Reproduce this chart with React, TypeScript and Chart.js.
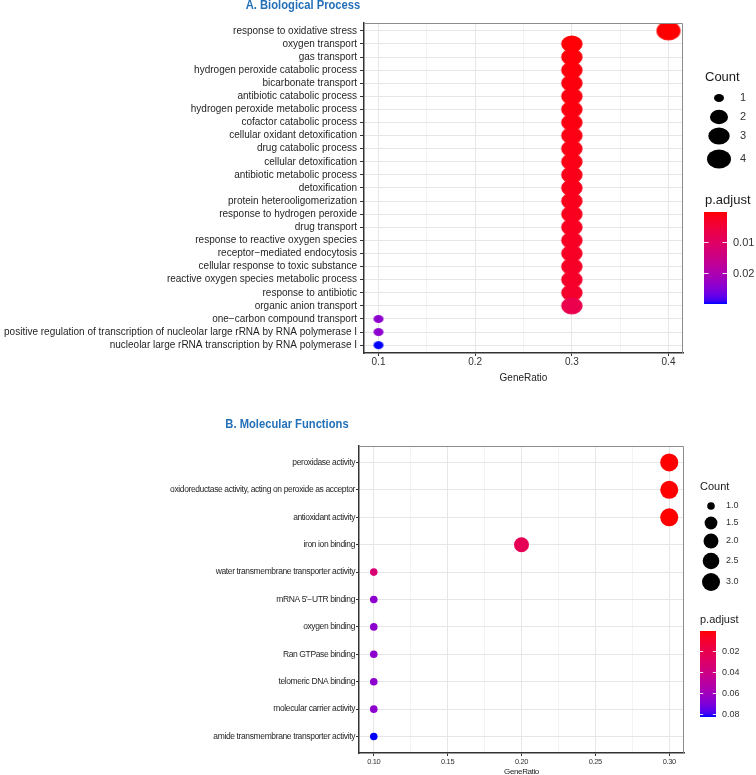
import React, { useEffect, useRef } from 'react';
import { Chart, registerables } from 'chart.js';

Chart.register(...registerables);

// ---------------- Data: A. Biological Process ----------------
const bpTerms = [
  'response to oxidative stress',
  'oxygen transport',
  'gas transport',
  'hydrogen peroxide catabolic process',
  'bicarbonate transport',
  'antibiotic catabolic process',
  'hydrogen peroxide metabolic process',
  'cofactor catabolic process',
  'cellular oxidant detoxification',
  'drug catabolic process',
  'cellular detoxification',
  'antibiotic metabolic process',
  'detoxification',
  'protein heterooligomerization',
  'response to hydrogen peroxide',
  'drug transport',
  'response to reactive oxygen species',
  'receptor\u2212mediated endocytosis',
  'cellular response to toxic substance',
  'reactive oxygen species metabolic process',
  'response to antibiotic',
  'organic anion transport',
  'one\u2212carbon compound transport',
  'positive regulation of transcription of nucleolar large rRNA by RNA polymerase I',
  'nucleolar large rRNA transcription by RNA polymerase I',
];
const bpGeneRatio = [0.4, 0.3, 0.3, 0.3, 0.3, 0.3, 0.3, 0.3, 0.3, 0.3, 0.3, 0.3, 0.3, 0.3, 0.3, 0.3, 0.3, 0.3, 0.3, 0.3, 0.3, 0.3, 0.1, 0.1, 0.1];
const bpCount = [4, 3, 3, 3, 3, 3, 3, 3, 3, 3, 3, 3, 3, 3, 3, 3, 3, 3, 3, 3, 3, 3, 1, 1, 1];
const bpPAdjust = [0.0004, 0.0007, 0.0008, 0.0009, 0.0010, 0.0011, 0.0012, 0.0013, 0.0014, 0.0015, 0.0016, 0.0018, 0.0019, 0.0021, 0.0023, 0.0025, 0.0027, 0.0029, 0.0031, 0.0034, 0.0037, 0.0073, 0.0240, 0.0240, 0.0300];
const bpXTicks = [0.1, 0.2, 0.3, 0.4];
const bpXMinor = [0.15, 0.25, 0.35];
const bpCountLegend = [1, 2, 3, 4];
const bpPTicks = [0.01, 0.02];

// ---------------- Data: B. Molecular Functions ----------------
const mfTerms = [
  'peroxidase activity',
  'oxidoreductase activity, acting on peroxide as acceptor',
  'antioxidant activity',
  'iron ion binding',
  'water transmembrane transporter activity',
  "mRNA 5'\u2212UTR binding",
  'oxygen binding',
  'Ran GTPase binding',
  'telomeric DNA binding',
  'molecular carrier activity',
  'amide transmembrane transporter activity',
];
const mfGeneRatio = [0.3, 0.3, 0.3, 0.2, 0.1, 0.1, 0.1, 0.1, 0.1, 0.1, 0.1];
const mfCount = [3, 3, 3, 2, 1, 1, 1, 1, 1, 1, 1];
const mfPAdjust = [0.0005, 0.0006, 0.0007, 0.0230, 0.0335, 0.0665, 0.0665, 0.0665, 0.0665, 0.0665, 0.0830];
const mfXTicks = [0.1, 0.15, 0.2, 0.25, 0.3];
const mfXMinor = [0.125, 0.175, 0.225, 0.275];
const mfCountLegend = [1.0, 1.5, 2.0, 2.5, 3.0];
const mfPTicks = [0.02, 0.04, 0.06, 0.08];

// ---------------- Styling helpers ----------------
const SANS = "'Liberation Sans', Arial, Helvetica, sans-serif";
const LOW_COLOR = '#FF0000';
const HIGH_COLOR = '#0000FF';

function hexToRgb(h: string): number[] {
  const v = parseInt(h.slice(1), 16);
  return [(v >> 16) & 255, (v >> 8) & 255, v & 255];
}
function rgbToLab(rgb: number[]): number[] {
  const lin = rgb.map((c) => {
    const x = c / 255;
    return x <= 0.04045 ? x / 12.92 : Math.pow((x + 0.055) / 1.055, 2.4);
  });
  const [r, g, b] = lin;
  const X = (0.4124564 * r + 0.3575761 * g + 0.1804375 * b) / 0.95047;
  const Y = 0.2126729 * r + 0.7151522 * g + 0.072175 * b;
  const Z = (0.0193339 * r + 0.119192 * g + 0.9503041 * b) / 1.08883;
  const f = (t: number) => (t > 0.008856 ? Math.cbrt(t) : 7.787 * t + 16 / 116);
  const fx = f(X), fy = f(Y), fz = f(Z);
  return [116 * fy - 16, 500 * (fx - fy), 200 * (fy - fz)];
}
function labToRgb(lab: number[]): number[] {
  const [L, a, b] = lab;
  const fy = (L + 16) / 116;
  const fx = fy + a / 500;
  const fz = fy - b / 200;
  const inv = (t: number) => (t * t * t > 0.008856 ? t * t * t : (t - 16 / 116) / 7.787);
  const X = 0.95047 * inv(fx), Y = inv(fy), Z = 1.08883 * inv(fz);
  const r = 3.2404542 * X - 1.5371385 * Y - 0.4985314 * Z;
  const g = -0.969266 * X + 1.8760108 * Y + 0.041556 * Z;
  const bb = 0.0556434 * X - 0.2040259 * Y + 1.0572252 * Z;
  return [r, g, bb].map((c) => {
    const v = c <= 0.0031308 ? 12.92 * c : 1.055 * Math.pow(c, 1 / 2.4) - 0.055;
    return Math.round(Math.max(0, Math.min(1, v)) * 255);
  });
}
const LOW_LAB = rgbToLab(hexToRgb(LOW_COLOR));
const HIGH_LAB = rgbToLab(hexToRgb(HIGH_COLOR));
function gradColor(t: number): string {
  const tt = Math.max(0, Math.min(1, t));
  const lab = LOW_LAB.map((v, i) => v + (HIGH_LAB[i] - v) * tt);
  const [r, g, b] = labToRgb(lab);
  return `rgb(${r},${g},${b})`;
}

function dotImage(rx: number, ry: number, color: string): HTMLCanvasElement {
  const c = document.createElement('canvas');
  const w = Math.ceil(rx * 2) + 2;
  const h = Math.ceil(ry * 2) + 2;
  c.width = w;
  c.height = h;
  const g = c.getContext('2d')!;
  g.fillStyle = color;
  g.beginPath();
  g.ellipse(w / 2, h / 2, rx, ry, 0, 0, Math.PI * 2);
  g.fill();
  return c;
}

type Spec = {
  terms: string[];
  ratio: number[];
  count: number[];
  padj: number[];
  xMin: number;
  xMax: number;
  xTicks: number[];
  xMinor: number[];
  xDecimals: number;
  area: { left: number; top: number; right: number; bottom: number };
  canvasW: number;
  canvasH: number;
  xTitleBottom: number;
  axisLetterSpacing: string;
  yFont: { family: string; size: number };
  xFont: { family: string; size: number };
  xTitleFont: { family: string; size: number };
  yTickLen: number;
  yTickPad: number;
  xTickLen: number;
  xTickPad: number;
  rMin: number;
  rMax: number;
  aspect: number;
  legend: {
    countLegend: number[];
    countDecimals: number;
    pTicks: number[];
    titleFont: number;
    labelFont: number;
    countTitle: { x: number; y: number };
    dotX: number;
    dotYs: number[];
    labelX: number;
    pTitle: { x: number; y: number };
    bar: { x: number; y: number; w: number; h: number };
    barLabelX: number;
  };
};

function buildConfig(spec: Spec): any {
  const n = spec.terms.length;
  const cMin = Math.min(...spec.count);
  const cMax = Math.max(...spec.count);
  const pMin = Math.min(...spec.padj);
  const pMax = Math.max(...spec.padj);
  const sizeOf = (c: number) =>
    spec.rMin + (spec.rMax - spec.rMin) * Math.sqrt(cMax === cMin ? 1 : (c - cMin) / (cMax - cMin));
  const colorOf = (p: number) => gradColor((p - pMin) / (pMax - pMin));
  const isMinor = (v: number) => spec.xMinor.some((m) => Math.abs(m - v) < 1e-9);
  const xAll = [...spec.xTicks, ...spec.xMinor].sort((a, b) => a - b);

  const radii = spec.count.map((c) => sizeOf(c));
  const colors = spec.padj.map((p) => colorOf(p));
  const styles = spec.aspect === 1
    ? 'circle'
    : radii.map((r, i) => dotImage(r, r * spec.aspect, colors[i]));

  const A = spec.area;
  const L = spec.legend;

  const framePlugin = {
    id: 'frameLegend' + Math.random().toString(36).slice(2),
    beforeDraw(chart: any) {
      const ctx = chart.ctx as any;
      if ('letterSpacing' in ctx) ctx.letterSpacing = spec.axisLetterSpacing;
    },
    afterDraw(chart: any) {
      const { chartArea: ca } = chart;
      const ctx = chart.ctx as any;
      if ('letterSpacing' in ctx) ctx.letterSpacing = '0px';
      ctx.save();
      // top & right panel border
      ctx.strokeStyle = '#8c8c8c';
      ctx.lineWidth = 1;
      ctx.beginPath();
      ctx.moveTo(ca.left, Math.round(ca.top) + 0.5);
      ctx.lineTo(Math.round(ca.right) - 0.5, Math.round(ca.top) + 0.5);
      ctx.lineTo(Math.round(ca.right) - 0.5, ca.bottom);
      ctx.stroke();

      // Count legend
      ctx.textAlign = 'left';
      ctx.textBaseline = 'middle';
      ctx.fillStyle = '#1a1a1a';
      ctx.font = `${L.titleFont}px ${SANS}`;
      ctx.fillText('Count', L.countTitle.x, L.countTitle.y);
      L.countLegend.forEach((c, i) => {
        const rx = sizeOf(c);
        const ry = rx * spec.aspect;
        ctx.fillStyle = '#000';
        ctx.beginPath();
        ctx.ellipse(L.dotX, L.dotYs[i], rx, ry, 0, 0, Math.PI * 2);
        ctx.fill();
        ctx.fillStyle = '#333';
        ctx.font = `${L.labelFont}px ${SANS}`;
        ctx.fillText(c.toFixed(L.countDecimals), L.labelX, L.dotYs[i]);
      });

      // p.adjust colour bar
      ctx.fillStyle = '#1a1a1a';
      ctx.font = `${L.titleFont}px ${SANS}`;
      ctx.fillText('p.adjust', L.pTitle.x, L.pTitle.y);
      const b = L.bar;
      const grad = ctx.createLinearGradient(0, b.y, 0, b.y + b.h);
      for (let k = 0; k <= 24; k++) grad.addColorStop(k / 24, gradColor(k / 24));
      ctx.fillStyle = grad;
      ctx.fillRect(b.x, b.y, b.w, b.h);
      ctx.strokeStyle = 'rgba(255,255,255,0.85)';
      ctx.lineWidth = 1;
      ctx.font = `${L.labelFont}px ${SANS}`;
      L.pTicks.forEach((v) => {
        const y = Math.round(b.y + ((v - pMin) / (pMax - pMin)) * b.h) + 0.5;
        const tl = b.w / 5;
        ctx.beginPath();
        ctx.moveTo(b.x, y);
        ctx.lineTo(b.x + tl, y);
        ctx.moveTo(b.x + b.w - tl, y);
        ctx.lineTo(b.x + b.w, y);
        ctx.stroke();
        ctx.fillStyle = '#333';
        ctx.fillText(v.toFixed(2), L.barLabelX, y);
      });
      ctx.restore();
    },
  };

  return {
    type: 'scatter',
    data: {
      datasets: [
        {
          data: spec.terms.map((_, i) => ({ x: spec.ratio[i], y: i })),
          pointStyle: styles,
          pointRadius: radii,
          pointHoverRadius: radii,
          backgroundColor: colors,
          borderColor: colors,
          borderWidth: 0,
          clip: 0,
        },
      ],
    },
    options: {
      animation: false,
      responsive: false,
      maintainAspectRatio: false,
      events: [],
      layout: {
        padding: {
          top: A.top,
          right: spec.canvasW - A.right,
          bottom: spec.canvasH - spec.xTitleBottom,
          left: 0,
        },
      },
      plugins: { legend: { display: false }, tooltip: { enabled: false }, title: { display: false } },
      scales: {
        x: {
          type: 'linear',
          min: spec.xMin,
          max: spec.xMax,
          afterBuildTicks: (s: any) => {
            s.ticks = xAll.map((v) => ({ value: v }));
          },
          afterFit: (s: any) => {
            s.height = spec.xTitleBottom - A.bottom;
          },
          ticks: {
            autoSkip: false,
            maxRotation: 0,
            minRotation: 0,
            padding: spec.xTickPad,
            color: '#333',
            font: spec.xFont,
            callback: (v: number) => (isMinor(v) ? '' : v.toFixed(spec.xDecimals)),
          },
          grid: {
            color: (c: any) => (c.tick && isMinor(c.tick.value) ? '#f3f3f3' : '#e6e6e6'),
            tickColor: (c: any) => (c.tick && isMinor(c.tick.value) ? 'rgba(0,0,0,0)' : '#333'),
            tickLength: spec.xTickLen,
            lineWidth: 1,
          },
          border: { display: true, color: '#333', width: 1.5 },
          title: {
            display: true,
            text: 'GeneRatio',
            color: '#222',
            font: spec.xTitleFont,
            padding: { top: 0, bottom: 0 },
          },
        },
        y: {
          type: 'linear',
          reverse: true,
          min: -0.6,
          max: n - 1 + 0.6,
          afterBuildTicks: (s: any) => {
            s.ticks = spec.terms.map((_, i) => ({ value: i }));
          },
          afterFit: (s: any) => {
            s.width = A.left;
          },
          ticks: {
            autoSkip: false,
            padding: spec.yTickPad,
            color: '#1f1f1f',
            font: spec.yFont,
            callback: (_v: number, i: number) => spec.terms[i],
          },
          grid: {
            color: '#e6e6e6',
            tickColor: '#333',
            tickLength: spec.yTickLen,
            lineWidth: 1,
          },
          border: { display: true, color: '#333', width: 1.5 },
        },
      },
    },
    plugins: [framePlugin],
  };
}

const specA: Spec = {
  terms: bpTerms,
  ratio: bpGeneRatio,
  count: bpCount,
  padj: bpPAdjust,
  xMin: 0.085,
  xMax: 0.415,
  xTicks: bpXTicks,
  xMinor: bpXMinor,
  xDecimals: 1,
  area: { left: 364, top: 23, right: 683, bottom: 353 },
  canvasW: 756,
  canvasH: 390,
  xTitleBottom: 384,
  axisLetterSpacing: '0px',
  yFont: { family: SANS, size: 10 },
  xFont: { family: SANS, size: 10 },
  xTitleFont: { family: SANS, size: 10 },
  yTickLen: 4,
  yTickPad: 3,
  xTickLen: 3,
  xTickPad: 0,
  rMin: 5,
  rMax: 12,
  aspect: 0.8,
  legend: {
    countLegend: bpCountLegend,
    countDecimals: 0,
    pTicks: bpPTicks,
    titleFont: 13,
    labelFont: 11,
    countTitle: { x: 705, y: 77 },
    dotX: 719,
    dotYs: [98, 117, 136, 159],
    labelX: 740,
    pTitle: { x: 705, y: 200 },
    bar: { x: 704, y: 212, w: 23, h: 92 },
    barLabelX: 733,
  },
};

const specB: Spec = {
  terms: mfTerms,
  ratio: mfGeneRatio,
  count: mfCount,
  padj: mfPAdjust,
  xMin: 0.09,
  xMax: 0.31,
  xTicks: mfXTicks,
  xMinor: mfXMinor,
  xDecimals: 2,
  area: { left: 359, top: 56, right: 684, bottom: 363 },
  canvasW: 756,
  canvasH: 395,
  xTitleBottom: 386.5,
  axisLetterSpacing: '-0.38px',
  yFont: { family: SANS, size: 8.5 },
  xFont: { family: SANS, size: 7.5 },
  xTitleFont: { family: SANS, size: 8 },
  yTickLen: 3,
  yTickPad: 1,
  xTickLen: 3,
  xTickPad: 1,
  rMin: 3.8,
  rMax: 9,
  aspect: 1,
  legend: {
    countLegend: mfCountLegend,
    countDecimals: 1,
    pTicks: mfPTicks,
    titleFont: 11,
    labelFont: 9,
    countTitle: { x: 700, y: 97 },
    dotX: 711,
    dotYs: [116, 133, 151, 171, 192],
    labelX: 726,
    pTitle: { x: 700, y: 230 },
    bar: { x: 700, y: 241, w: 16, h: 86 },
    barLabelX: 722,
  },
};

function DotPlot({ spec, top }: { spec: Spec; top: number }) {
  const ref = useRef<HTMLCanvasElement | null>(null);
  useEffect(() => {
    if (!ref.current) return;
    const chart = new Chart(ref.current, buildConfig(spec));
    return () => chart.destroy();
  }, [spec]);
  return (
    <canvas
      ref={ref}
      width={spec.canvasW}
      height={spec.canvasH}
      style={{ position: 'absolute', left: 0, top, width: spec.canvasW, height: spec.canvasH }}
    />
  );
}

const titleStyle = (cx: number, cy: number): React.CSSProperties => ({
  position: 'absolute',
  left: cx,
  top: cy,
  transform: 'translate(-50%, -50%) scaleX(0.83)',
  whiteSpace: 'nowrap',
  fontFamily: SANS,
  fontWeight: 'bold',
  fontSize: 13.5,
  lineHeight: 1,
  color: '#2370B8',
  zIndex: 2,
});

export default function App() {
  return (
    <div
      style={{
        position: 'absolute',
        left: 0,
        top: 0,
        width: 756,
        height: 775,
        overflow: 'hidden',
        background: '#fff',
      }}
    >
      <DotPlot spec={specA} top={0} />
      <DotPlot spec={specB} top={390} />
      <div style={titleStyle(303, 5)}>A. Biological Process</div>
      <div style={titleStyle(287, 424)}>B. Molecular Functions</div>
    </div>
  );
}
